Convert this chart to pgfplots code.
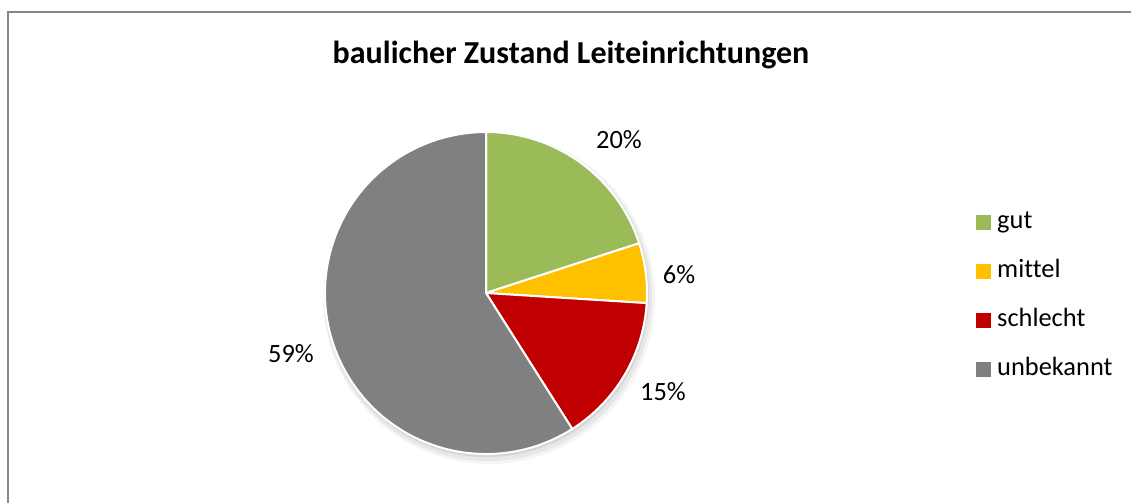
\documentclass[border=0pt]{standalone}
\usepackage{fontspec}
\setmainfont{Carlito}[Ligatures={NoCommon}]
\usepackage{pgfplots}
\pgfplotsset{compat=1.18}
\definecolor{cgut}{HTML}{9BBB59}
\definecolor{cmittel}{HTML}{FFC000}
\definecolor{cschlecht}{HTML}{C00000}
\definecolor{cunbekannt}{HTML}{808080}
\definecolor{cframe}{HTML}{868686}
\newcommand\titlefont{\fontsize{16}{19}\selectfont\bfseries}
\newcommand\lblfont{\fontsize{13.2}{15}\selectfont}
\begin{document}
\begin{tikzpicture}
% shares in percent
\def\sGut{20}\def\sMittel{6}\def\sSchlecht{15}\def\sUnbekannt{59}
\pgfmathsetmacro\aA{90}
\pgfmathsetmacro\aB{\aA-3.6*\sGut}
\pgfmathsetmacro\aC{\aB-3.6*\sMittel}
\pgfmathsetmacro\aD{\aC-3.6*\sSchlecht}
\pgfmathsetmacro\aE{\aD-3.6*\sUnbekannt}
\def\R{80.5pt}
\begin{axis}[x=0.5pt, y=0.5pt, y dir=reverse,
  xmin=0, xmax=1131, ymin=0, ymax=503,
  hide axis, scale only axis, clip=false,
  legend image code/.code={\fill[#1] (0pt,-3.4pt) rectangle (6.8pt,3.4pt);},
  legend cell align=left,
  legend style={at={(axis cs:976,210)}, anchor=north west, draw=none, fill=none,
    font=\lblfont, row sep=12.8pt, inner sep=0pt,
    nodes={inner sep=0pt, text height=9.2pt, text depth=2.5pt}},
]
\addlegendimage{cgut}\addlegendentry{\hspace{3.2pt}gut}
\addlegendimage{cmittel}\addlegendentry{\hspace{3.2pt}mittel}
\addlegendimage{cschlecht}\addlegendentry{\hspace{3.2pt}schlecht}
\addlegendimage{cunbekannt}\addlegendentry{\hspace{3.2pt}unbekannt}
% frame
\draw[cframe, line width=1pt] (axis cs:8,503) -- (axis cs:8,12) -- (axis cs:1131,12);
% title
\node[font=\titlefont] at (axis cs:571,55) {baulicher Zustand Leiteinrichtungen};
% shadow
\fill[black, opacity=0.04] (axis cs:489,298) circle[radius=83pt];
\fill[black, opacity=0.06] (axis cs:488,297) circle[radius=82pt];
\fill[black, opacity=0.08] (axis cs:487,295) circle[radius=81pt];
% slices
\filldraw[fill=cgut, draw=white, line width=1pt, line join=round] (axis cs:486,293) -- ++(\aA:\R) arc[start angle=\aA, end angle=\aB, radius=\R] -- cycle;
\filldraw[fill=cmittel, draw=white, line width=1pt, line join=round] (axis cs:486,293) -- ++(\aB:\R) arc[start angle=\aB, end angle=\aC, radius=\R] -- cycle;
\filldraw[fill=cschlecht, draw=white, line width=1pt, line join=round] (axis cs:486,293) -- ++(\aC:\R) arc[start angle=\aC, end angle=\aD, radius=\R] -- cycle;
\filldraw[fill=cunbekannt, draw=white, line width=1pt, line join=round] (axis cs:486,293) -- ++(\aD:\R) arc[start angle=\aD, end angle=\aE, radius=\R] -- cycle;
% data labels
\node[font=\lblfont] at (axis cs:619,140) {20\%};
\node[font=\lblfont] at (axis cs:679,275) {6\%};
\node[font=\lblfont] at (axis cs:663,392) {15\%};
\node[font=\lblfont] at (axis cs:291,354) {59\%};
\end{axis}
\pgfresetboundingbox
\path[use as bounding box] (current axis.south west) rectangle (current axis.north east);
\end{tikzpicture}
\end{document}
